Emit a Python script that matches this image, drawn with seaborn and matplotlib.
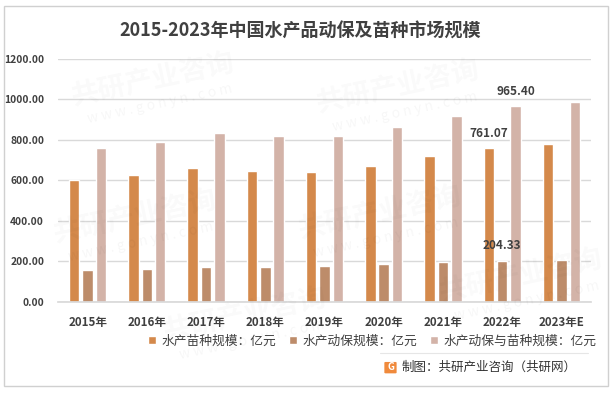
import matplotlib
matplotlib.use("Agg")
import matplotlib.pyplot as plt
from matplotlib.patches import Rectangle, FancyBboxPatch
import seaborn as sns
import pandas as pd

# data (亿元)
years = ['2015年', '2016年', '2017年', '2018年', '2019年', '2020年', '2021年', '2022年', '2023年E']
seed = [600, 625, 660, 645, 640, 672, 722, 761.07, 780]
health = [158, 165, 175, 175, 180, 190, 195, 204.33, 208]
total = [758, 790, 835, 820, 820, 862, 917, 965.40, 988]
series = ['水产苗种规模：亿元', '水产动保规模：亿元', '水产动保与苗种规模：亿元']
colors = ['#D4894B', '#BD8C6A', '#D3B3A8']

sns.set_theme(style="white")
plt.rcParams['font.family'] = ['Noto Sans CJK SC', 'DejaVu Sans']

rows = []
for i, y in enumerate(years):
    rows.append({'year': y, 'series': series[0], 'value': seed[i]})
    rows.append({'year': y, 'series': series[1], 'value': health[i]})
    rows.append({'year': y, 'series': series[2], 'value': total[i]})
df = pd.DataFrame(rows)

fig = plt.figure(figsize=(6.13, 3.93), dpi=100)
ax = fig.add_axes([0.0946, 0.2316, 0.8695, 0.6183])

sns.barplot(data=df, x='year', y='value', hue='series', order=years, hue_order=series,
            palette=colors, width=0.68, gap=0.22, saturation=1, ax=ax, legend=True)

ax.set_ylim(0, 1200)
ax.set_xlim(-0.5, len(years) - 0.5)
ax.set_yticks([0, 200, 400, 600, 800, 1000, 1200])
ax.set_yticklabels(['%.2f' % v for v in ax.get_yticks()])
ax.yaxis.grid(True, color='#D9D9D9', linewidth=1)
ax.set_axisbelow(True)
for s in ['top', 'right', 'left']:
    ax.spines[s].set_visible(False)
ax.spines['bottom'].set_color('#D9D9D9')
ax.tick_params(axis='both', length=0, colors='#404040')
ax.tick_params(axis='y', pad=10)
ax.tick_params(axis='x', pad=10)
for t in ax.get_yticklabels():
    t.set_fontsize(7.4)
    t.set_fontweight('bold')
for t in ax.get_xticklabels():
    t.set_fontsize(8.3)
    t.set_fontweight('bold')
ax.set_xlabel('')
ax.set_ylabel('')

# data labels only for 2022
for k, c in enumerate(ax.containers):
    labs = [''] * len(years)
    labs[7] = '%.2f' % [seed, health, total][k][7]
    ax.bar_label(c, labels=labs, padding=6, fontsize=8.5, fontweight='bold', color='#404040')

# legend below the axis
handles, labels = ax.get_legend_handles_labels()
ax.get_legend().remove()
fig.legend(handles, labels, loc='center', bbox_to_anchor=(0.607, 0.132), ncol=3, frameon=False,
           fontsize=9.2, handlelength=0.65, handleheight=0.65, handletextpad=0.4, columnspacing=1.0,
           labelcolor='#404040')

# title
fig.text(0.49, 0.922, '2015-2023年中国水产品动保及苗种市场规模', ha='center', va='center',
         fontsize=13, fontweight='bold', color='#404040')

# faint watermarks
for (wx, wy) in [(0.25, 0.80), (0.65, 0.78), (0.22, 0.45), (0.62, 0.46), (0.40, 0.20), (0.85, 0.30)]:
    fig.text(wx, wy, '共研产业咨询', rotation=12, fontsize=20, fontweight='bold', color='#000000',
             alpha=0.025, ha='center', va='center')
    fig.text(wx + 0.01, wy - 0.065, 'w w w . g o n y n . c o m', rotation=12, fontsize=10,
             color='#000000', alpha=0.035, ha='center', va='center')

# source line with logo
fig.add_artist(FancyBboxPatch((0.629, 0.052), 0.016, 0.025, boxstyle='round,pad=0.002',
                              transform=fig.transFigure, facecolor='#F08A3C', edgecolor='none'))
fig.text(0.637, 0.065, 'G', ha='center', va='center', fontsize=7, fontweight='bold', color='white')
fig.text(0.655, 0.065, '制图：共研产业咨询（共研网）', ha='left', va='center', fontsize=9, color='#333333')
fig.add_artist(plt.Line2D([0.62, 0.96], [0.102, 0.102], transform=fig.transFigure,
                          color='#E6E6E6', linewidth=0.8))

# outer border
fig.add_artist(Rectangle((0.006, 0.017), 0.986, 0.968, transform=fig.transFigure,
                         fill=False, edgecolor='#D0D0D0', linewidth=1))

fig.savefig('out.png', dpi=100)
